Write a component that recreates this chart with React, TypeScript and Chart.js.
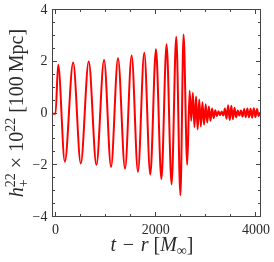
import React, { useEffect, useRef } from "react";
import { Chart, registerables } from "chart.js";

Chart.register(...registerables);

// Waveform extrema: time t - r [M_inf] and strain h
const tValues = [
  -60, 0, 53, 186, 352, 504, 663, 816, 969, 1108, 1247, 1387, 1519, 1645, 1771, 1891,
  2004, 2112, 2216, 2316, 2409, 2492, 2555, 2628,
  2676, 2708, 2740, 2772, 2804, 2836, 2868, 2900, 2932, 2964, 2996, 3028, 3060, 3092,
  3124, 3156, 3188, 3220, 3252, 3284, 3316, 3348, 3380, 3412, 3444, 3476, 3508, 3540,
  3572, 3604, 3636, 3668, 3700, 3732, 3764, 3796, 3828, 3860, 3892, 3924, 3956, 3988,
  4020, 4052, 4080,
];
const hValues = [
  -0.03, -0.03, 1.86, -1.88, 1.95, -1.95, 1.99, -2.0, 2.05, -2.08, 2.12, -2.15, 2.22, -2.27, 2.33, -2.38,
  2.46, -2.55, 2.66, -2.76, 2.95, -3.18, 3.03, -2.0,
  0.86, -0.3, 0.78, -0.55, 0.64, -0.63, 0.52, -0.52, 0.42, -0.45, 0.34, -0.37, 0.25, -0.3,
  0.17, -0.2, 0.11, -0.12, 0.07, -0.08, 0.06, -0.1, 0.17, -0.22, 0.3, -0.27, 0.28, -0.24,
  0.2, -0.17, 0.1, -0.1, 0.1, -0.14, 0.15, -0.16, 0.17, -0.17, 0.16, -0.18, 0.18, -0.16,
  0.15, -0.12, 0.02,
];

const xMajorTicks = [0, 2000, 4000];
const xMinorStep = 500;
const yMajorTicks = [-4, -2, 0, 2, 4];
const yMinorStep = 0.5;
const xRange = [-60, 4090];
const yRange = [-4, 4];

const SERIF = "'Liberation Serif', 'DejaVu Serif', serif";
const TEXT = "#2a2a2a";
const FRAME = "#444";

type Seg = { text: string; italic?: boolean; size: number; dy?: number; noAdvance?: boolean };

function drawRich(ctx: CanvasRenderingContext2D, segs: Seg[], cx: number, y: number) {
  const font = (s: Seg) => `${s.italic ? "italic " : ""}${s.size}px ${SERIF}`;
  let total = 0;
  for (const s of segs) {
    ctx.font = font(s);
    if (!s.noAdvance) total += ctx.measureText(s.text).width;
  }
  let x = cx - total / 2;
  ctx.textAlign = "left";
  ctx.textBaseline = "alphabetic";
  for (const s of segs) {
    ctx.font = font(s);
    ctx.fillText(s.text, x, y + (s.dy || 0));
    if (!s.noAdvance) x += ctx.measureText(s.text).width;
  }
}

const axesPlugin = {
  id: "axesPlugin",
  afterDraw(chart: any) {
    const { ctx, chartArea } = chart;
    const xs = chart.scales.x;
    const ys = chart.scales.y;
    const { left, right, top, bottom } = chartArea;
    ctx.save();
    ctx.strokeStyle = FRAME;
    ctx.lineWidth = 1;
    ctx.strokeRect(left, top, right - left, bottom - top);

    const tick = (x1: number, y1: number, x2: number, y2: number) => {
      ctx.beginPath();
      ctx.moveTo(x1, y1);
      ctx.lineTo(x2, y2);
      ctx.stroke();
    };
    const snap = (v: number) => Math.round(v - 0.5) + 0.5;

    for (let v = 0; v <= xRange[1]; v += xMinorStep) {
      const major = xMajorTicks.includes(v);
      const len = major ? 4.5 : 2.5;
      const px = snap(xs.getPixelForValue(v));
      tick(px, bottom, px, bottom - len);
      tick(px, top, px, top + len);
    }
    for (let v = yRange[0]; v <= yRange[1] + 1e-9; v += yMinorStep) {
      const major = yMajorTicks.some((m) => Math.abs(m - v) < 1e-9);
      const len = major ? 4.5 : 2.5;
      const py = snap(ys.getPixelForValue(v));
      tick(left, py, left + len, py);
      tick(right, py, right - len, py);
    }

    ctx.fillStyle = TEXT;
    ctx.font = `14px ${SERIF}`;
    ctx.textAlign = "center";
    ctx.textBaseline = "alphabetic";
    for (const v of xMajorTicks) {
      ctx.fillText(String(v), xs.getPixelForValue(v), bottom + 17);
    }
    ctx.textAlign = "right";
    ctx.textBaseline = "middle";
    for (const v of yMajorTicks) {
      const label = v < 0 ? "\u2212" + Math.abs(v) : String(v);
      ctx.fillText(label, left - 5, ys.getPixelForValue(v) + 0.5);
    }

    drawRich(
      ctx,
      [
        { text: "t", italic: true, size: 20 },
        { text: "\u2004\u2212\u2004", size: 20 },
        { text: "r", italic: true, size: 20 },
        { text: "\u2005[", size: 20 },
        { text: "M", italic: true, size: 20 },
        { text: "\u221E", size: 14, dy: 4 },
        { text: "]", size: 20 },
      ],
      152,
      bottom + 34
    );

    ctx.save();
    ctx.translate(23, (top + bottom) / 2);
    ctx.rotate(-Math.PI / 2);
    drawRich(
      ctx,
      [
        { text: "h", italic: true, size: 20 },
        { text: "+", size: 14, dy: 5, noAdvance: true },
        { text: "22", size: 14, dy: -8 },
        { text: " \u00D7 10", size: 20 },
        { text: "22", size: 14, dy: -8 },
        { text: " [100\u2009Mpc]", size: 20 },
      ],
      0,
      0
    );
    ctx.restore();
    ctx.restore();
  },
};

export default function App() {
  const ref = useRef<HTMLCanvasElement>(null);
  useEffect(() => {
    if (!ref.current) return;
    const chart = new Chart(ref.current, {
      type: "line",
      data: {
        datasets: [
          {
            data: tValues.map((t, i) => ({ x: t, y: hValues[i] })),
            borderColor: "#ff0000",
            borderWidth: 2,
            pointRadius: 0,
            cubicInterpolationMode: "monotone",
            fill: false,
          },
        ],
      },
      options: {
        animation: false,
        responsive: false,
        maintainAspectRatio: false,
        layout: { padding: { left: 52.5, top: 9.5, right: 13.5, bottom: 45.5 } },
        plugins: { legend: { display: false }, tooltip: { enabled: false } },
        scales: {
          x: { type: "linear", min: xRange[0], max: xRange[1], display: false },
          y: { type: "linear", min: yRange[0], max: yRange[1], display: false },
        },
      },
      plugins: [axesPlugin],
    });
    return () => chart.destroy();
  }, []);
  return (
    <div style={{ position: "fixed", left: 0, top: 0, width: 274, height: 262, background: "#fff" }}>
      <canvas ref={ref} width={274} height={262} style={{ display: "block", width: 274, height: 262 }} />
    </div>
  );
}
